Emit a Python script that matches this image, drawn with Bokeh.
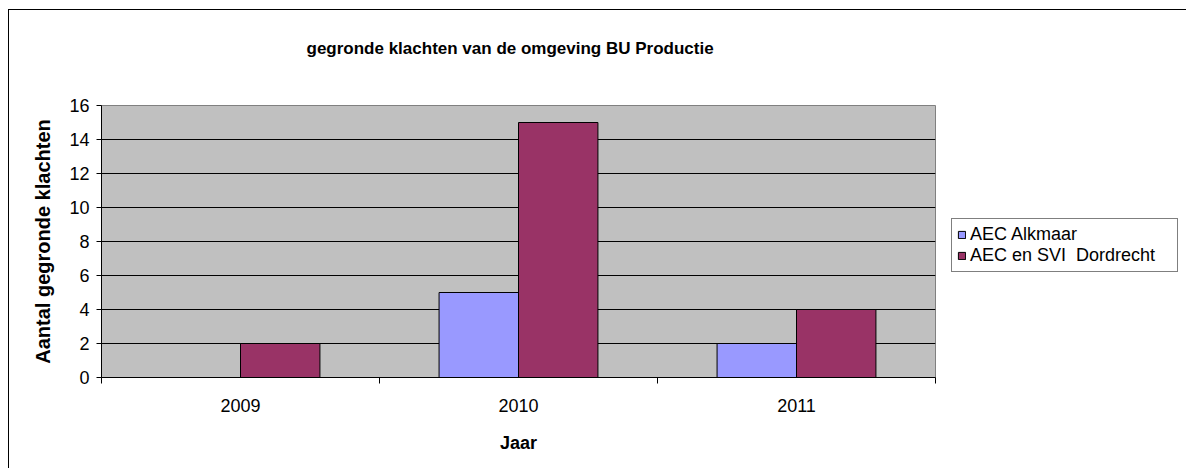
import numpy as np
from bokeh.plotting import figure
from bokeh.models import (FixedTicker, Legend, LegendItem, Title,
                          ColumnDataSource, Range1d)
from bokeh.embed import file_html
from bokeh.resources import INLINE

# ---- data -------------------------------------------------------------
years = ["2009", "2010", "2011"]
series_names = ["AEC Alkmaar", "AEC en SVI  Dordrecht"]
alkmaar = [0, 5, 2]
dordrecht = [2, 15, 4]
series_colors = ["#9999FF", "#993366"]
y_ticks = [0, 2, 4, 6, 8, 10, 12, 14, 16]

title_text = "gegronde klachten van de omgeving BU Productie"
x_title = "Jaar"
y_title = "Aantal gegronde klachten"

FONT = "Liberation Sans"

# ---- figure -----------------------------------------------------------
p = figure(frame_width=834, frame_height=272,
           min_border_left=92, min_border_top=95,
           min_border_right=250, min_border_bottom=92,
           x_range=Range1d(0, len(years)), y_range=Range1d(0, 16),
           output_backend="svg", toolbar_location=None,
           background_fill_color="#C0C0C0", border_fill_color="white",
           outline_line_color="#808080", outline_line_width=1)
# chart border: top/left edges visible, right/bottom run off the page
p.styles = {"margin-left": "9px", "margin-top": "10px",
            "box-shadow": "-1px -1px 0 0 black"}

# bars (gap width 150% -> each bar 1/3.5 of a category)
bw = 1 / 3.5
centers = np.arange(len(years)) + 0.5
src = ColumnDataSource(dict(
    x1=centers - bw / 2, x2=centers + bw / 2,
    a=alkmaar, d=dordrecht))
r1 = p.vbar(x="x1", top="a", bottom=0, width=bw, source=src,
            fill_color=series_colors[0], line_color="black", line_width=1)
r2 = p.vbar(x="x2", top="d", bottom=0, width=bw, source=src,
            fill_color=series_colors[1], line_color="black", line_width=1)

# grid
p.xgrid.visible = False
p.ygrid.ticker = FixedTicker(ticks=y_ticks)
p.ygrid.grid_line_color = "black"
p.ygrid.grid_line_width = 1

# y axis
ya = p.yaxis[0]
ya.ticker = FixedTicker(ticks=y_ticks)
ya.major_tick_out = 5
ya.major_tick_in = 0
ya.minor_tick_line_color = None
ya.axis_line_color = "black"
ya.major_tick_line_color = "black"
ya.major_label_text_font = FONT
ya.major_label_text_font_size = "18px"
ya.major_label_text_color = "black"
ya.major_label_standoff = 7
ya.axis_label = y_title
ya.axis_label_text_font = FONT
ya.axis_label_text_font_style = "bold"
ya.axis_label_text_font_size = "20px"
ya.axis_label_text_color = "black"
ya.axis_label_standoff = 12

# x axis: ticks at category boundaries, labels at category centres
xa = p.xaxis[0]
xa.ticker = FixedTicker(ticks=list(centers),
                        minor_ticks=list(range(len(years) + 1)))
xa.major_label_overrides = {float(c): y for c, y in zip(centers, years)}
xa.major_tick_line_color = None
xa.major_tick_out = 0
xa.major_tick_in = 0
xa.minor_tick_line_color = "black"
xa.minor_tick_out = 6
xa.minor_tick_in = 0
xa.axis_line_color = "black"
xa.major_label_text_font = FONT
xa.major_label_text_font_size = "18px"
xa.major_label_text_color = "black"
xa.major_label_standoff = 15
xa.axis_label = x_title
xa.axis_label_text_font = FONT
xa.axis_label_text_font_style = "bold"
xa.axis_label_text_font_size = "18px"
xa.axis_label_text_color = "black"
xa.axis_label_standoff = 18

# title: a blank spacer next to the plot area, the real title above it
p.title.text = ""
spacer = Title(text="\u00a0", text_font=FONT, text_font_size="17px",
               text_font_style="bold", text_color="white", standoff=27)
p.add_layout(spacer, "above")
main_title = Title(text=title_text, text_font=FONT, text_font_size="17px",
                   text_font_style="bold", text_color="black",
                   align="left", offset=205, standoff=0)
p.add_layout(main_title, "above")

# legend (outside the plot area, right side)
legend = Legend(items=[LegendItem(label=series_names[0], renderers=[r1]),
                       LegendItem(label=series_names[1], renderers=[r2])],
                location=(16, 105), orientation="vertical",
                border_line_color="black", border_line_width=1,
                background_fill_color="white", background_fill_alpha=1,
                padding=5, spacing=0, margin=0,
                glyph_width=9, glyph_height=9, label_height=18,
                label_width=202, label_standoff=4,
                label_text_font=FONT, label_text_font_size="18px",
                label_text_color="black")
p.add_layout(legend, "right")

open("out.html", "w").write(file_html(p, INLINE))
